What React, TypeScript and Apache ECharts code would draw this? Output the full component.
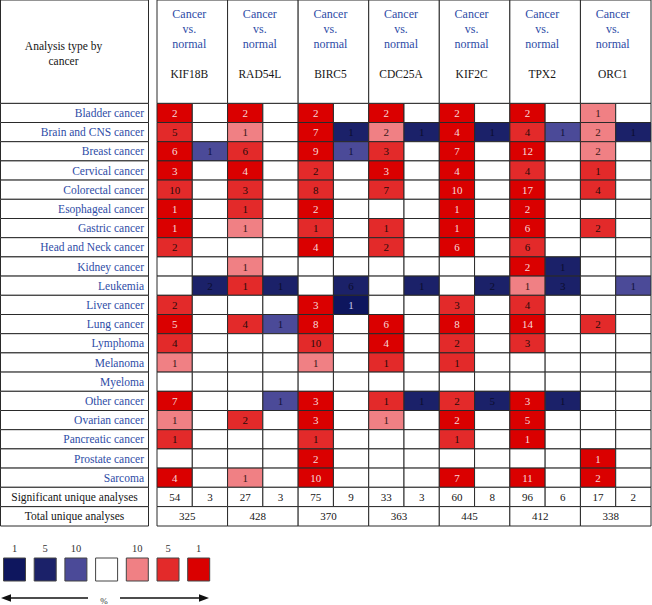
import React, { useEffect, useRef } from "react";
import * as echarts from "echarts";

const FONT = '"Liberation Serif", "DejaVu Serif", serif';

const cancers = [
  "Bladder cancer", "Brain and CNS cancer", "Breast cancer", "Cervical cancer",
  "Colorectal cancer", "Esophageal cancer", "Gastric cancer", "Head and Neck cancer",
  "Kidney cancer", "Leukemia", "Liver cancer", "Lung cancer", "Lymphoma",
  "Melanoma", "Myeloma", "Other cancer", "Ovarian cancer", "Pancreatic cancer",
  "Prostate cancer", "Sarcoma",
];
const genes = ["KIF18B", "RAD54L", "BIRC5", "CDC25A", "KIF2C", "TPX2", "ORC1"];

// counts of analyses (up = over-expressed, down = under-expressed) and their top-% shade
const kif18bUp = [2, 5, 6, 3, 10, 1, 1, 2, 0, 0, 2, 5, 4, 1, 0, 7, 1, 1, 0, 4];
const kif18bUpPct = [1, 5, 1, 1, 5, 1, 1, 5, 0, 0, 5, 1, 5, 10, 0, 1, 10, 5, 0, 1];
const kif18bDown = [0, 0, 1, 0, 0, 0, 0, 0, 0, 2, 0, 0, 0, 0, 0, 0, 0, 0, 0, 0];
const kif18bDownPct = [0, 0, 10, 0, 0, 0, 0, 0, 0, 5, 0, 0, 0, 0, 0, 0, 0, 0, 0, 0];

const rad54lUp = [2, 1, 6, 4, 3, 1, 1, 0, 1, 1, 0, 4, 0, 0, 0, 0, 2, 0, 0, 1];
const rad54lUpPct = [1, 10, 5, 1, 5, 5, 10, 0, 10, 5, 0, 5, 0, 0, 0, 0, 5, 0, 0, 10];
const rad54lDown = [0, 0, 0, 0, 0, 0, 0, 0, 0, 1, 0, 1, 0, 0, 0, 1, 0, 0, 0, 0];
const rad54lDownPct = [0, 0, 0, 0, 0, 0, 0, 0, 0, 5, 0, 10, 0, 0, 0, 10, 0, 0, 0, 0];

const birc5Up = [2, 7, 9, 2, 8, 2, 1, 4, 0, 0, 3, 8, 10, 1, 0, 3, 3, 1, 2, 10];
const birc5UpPct = [1, 1, 1, 5, 5, 1, 5, 1, 0, 0, 1, 1, 5, 10, 0, 1, 1, 5, 1, 1];
const birc5Down = [0, 1, 1, 0, 0, 0, 0, 0, 0, 6, 1, 0, 0, 0, 0, 0, 0, 0, 0, 0];
const birc5DownPct = [0, 5, 10, 0, 0, 0, 0, 0, 0, 5, 1, 0, 0, 0, 0, 0, 0, 0, 0, 0];

const cdc25aUp = [2, 2, 3, 3, 7, 0, 1, 2, 0, 0, 0, 6, 4, 1, 0, 1, 1, 0, 0, 0];
const cdc25aUpPct = [1, 10, 5, 1, 5, 0, 5, 5, 0, 0, 0, 1, 1, 5, 0, 5, 10, 0, 0, 0];
const cdc25aDown = [0, 1, 0, 0, 0, 0, 0, 0, 0, 1, 0, 0, 0, 0, 0, 1, 0, 0, 0, 0];
const cdc25aDownPct = [0, 5, 0, 0, 0, 0, 0, 0, 0, 5, 0, 0, 0, 0, 0, 5, 0, 0, 0, 0];

const kif2cUp = [2, 4, 7, 4, 10, 1, 1, 6, 0, 0, 3, 8, 2, 1, 0, 2, 2, 1, 0, 7];
const kif2cUpPct = [1, 1, 1, 1, 1, 1, 1, 1, 0, 0, 5, 1, 5, 5, 0, 5, 1, 5, 0, 1];
const kif2cDown = [0, 1, 0, 0, 0, 0, 0, 0, 0, 2, 0, 0, 0, 0, 0, 5, 0, 0, 0, 0];
const kif2cDownPct = [0, 5, 0, 0, 0, 0, 0, 0, 0, 5, 0, 0, 0, 0, 0, 5, 0, 0, 0, 0];

const tpx2Up = [2, 4, 12, 4, 17, 2, 6, 6, 2, 1, 4, 14, 3, 0, 0, 3, 5, 1, 0, 11];
const tpx2UpPct = [1, 5, 1, 5, 1, 1, 1, 5, 1, 10, 5, 1, 5, 0, 0, 1, 1, 1, 0, 1];
const tpx2Down = [0, 1, 0, 0, 0, 0, 0, 0, 1, 3, 0, 0, 0, 0, 0, 1, 0, 0, 0, 0];
const tpx2DownPct = [0, 10, 0, 0, 0, 0, 0, 0, 5, 5, 0, 0, 0, 0, 0, 5, 0, 0, 0, 0];

const orc1Up = [1, 2, 2, 1, 4, 0, 2, 0, 0, 0, 0, 2, 0, 0, 0, 0, 0, 0, 1, 2];
const orc1UpPct = [10, 10, 10, 5, 5, 0, 5, 0, 0, 0, 0, 5, 0, 0, 0, 0, 0, 0, 1, 1];
const orc1Down = [0, 1, 0, 0, 0, 0, 0, 0, 0, 1, 0, 0, 0, 0, 0, 0, 0, 0, 0, 0];
const orc1DownPct = [0, 5, 0, 0, 0, 0, 0, 0, 0, 10, 0, 0, 0, 0, 0, 0, 0, 0, 0, 0];

const significant = [54, 3, 27, 3, 75, 9, 33, 3, 60, 8, 96, 6, 17, 2];
const totals = [325, 428, 370, 363, 445, 412, 338];
const bottomLabels = ["Significant unique analyses", "Total unique analyses"];

const legendTicks = ["1", "5", "10", "", "10", "5", "1"];
const legendKeys = ["d1", "d5", "d10", "none", "u10", "u5", "u1"];

const UP = [kif18bUp, rad54lUp, birc5Up, cdc25aUp, kif2cUp, tpx2Up, orc1Up];
const UP_PCT = [kif18bUpPct, rad54lUpPct, birc5UpPct, cdc25aUpPct, kif2cUpPct, tpx2UpPct, orc1UpPct];
const DOWN = [kif18bDown, rad54lDown, birc5Down, cdc25aDown, kif2cDown, tpx2Down, orc1Down];
const DOWN_PCT = [kif18bDownPct, rad54lDownPct, birc5DownPct, cdc25aDownPct, kif2cDownPct, tpx2DownPct, orc1DownPct];

const FILL: Record<string, string> = {
  u1: "#DA0000", u5: "#E32A2A", u10: "#F08084",
  d1: "#0E165E", d5: "#1B2169", d10: "#4B4A98", none: "#FFFFFF",
};
const TEXT: Record<string, string> = {
  u1: "#F7D9D9", u5: "#2A0B0B", u10: "#3A1818",
  d1: "#C2C8EA", d5: "#0B0D2E", d10: "#12123A", none: "#222",
};
const BLUE = "#2E4CA6";
const LINE = "#2A2A2A";

type Cell = {
  x: number; y: number; text: string; fill: string; color: string;
  size?: number; position?: string; distance?: number; offset?: number[];
  rich?: any; align?: string; lineHeight?: number;
};

function cellSeries(gridIndex: number, cells: Cell[]) {
  return {
    type: "custom",
    coordinateSystem: "cartesian2d",
    xAxisIndex: gridIndex,
    yAxisIndex: gridIndex,
    silent: true,
    data: cells.map((c) => [c.x, c.y]),
    renderItem: (params: any, api: any) => {
      const c = cells[params.dataIndex];
      const p = api.coord([api.value(0), api.value(1)]);
      const s = api.size([1, 1]);
      return {
        type: "rect",
        shape: { x: p[0] - s[0] / 2, y: p[1] - s[1] / 2, width: s[0], height: s[1] },
        style: { fill: c.fill, stroke: LINE, lineWidth: 1 },
        textContent: {
          style: {
            text: c.text,
            fill: c.color,
            fontFamily: FONT,
            fontSize: c.size || 11,
            align: c.align || "center",
            verticalAlign: "middle",
            lineHeight: c.lineHeight,
            rich: c.rich,
          },
        },
        textConfig: {
          position: c.position || "inside",
          distance: c.distance || 0,
          offset: c.offset || [0, 0],
        },
      };
    },
  };
}

function buildOption() {
  const subCols: string[] = [];
  genes.forEach((g) => { subCols.push(g + " up"); subCols.push(g + " down"); });

  const mainCells: Cell[] = [];
  for (let g = 0; g < genes.length; g++) {
    for (let r = 0; r < cancers.length; r++) {
      const pairs: [number, number, string][] = [
        [2 * g, UP[g][r], UP_PCT[g][r] ? "u" + UP_PCT[g][r] : "none"],
        [2 * g + 1, DOWN[g][r], DOWN_PCT[g][r] ? "d" + DOWN_PCT[g][r] : "none"],
      ];
      pairs.forEach(([x, v, key]) => {
        mainCells.push({ x, y: r, text: v ? String(v) : "", fill: FILL[key], color: TEXT[key] });
      });
    }
  }

  const labelCells: Cell[] = cancers.map((name, r) => ({
    x: 0, y: r, text: name, fill: "#fff", color: BLUE, position: "insideRight", distance: 5,
    align: "right", size: 11.5,
  }));
  const headerCells: Cell[] = genes.map((g, i) => ({
    x: i, y: 0, fill: "#fff", color: BLUE, offset: [-3, -7.6],
    text: `{c|Cancer}\n{c|vs.}\n{c|normal}\n{s| }\n{g|${g}}`,
    rich: {
      c: { fill: BLUE, fontFamily: FONT, fontSize: 12, lineHeight: 15, align: "center" },
      s: { fontSize: 12, lineHeight: 15 },
      g: { fill: "#151515", fontFamily: FONT, fontSize: 11.5, lineHeight: 15, align: "center" },
    },
  }));
  const headLabel: Cell[] = [{
    x: 0, y: 0, text: "Analysis type by\ncancer", fill: "#fff", color: "#151515",
    size: 11.5, lineHeight: 15, offset: [-11, 2],
  }];
  const sigCells: Cell[] = significant.map((v, i) => ({ x: i, y: 0, text: String(v), fill: "#fff", color: "#151515" }));
  const totCells: Cell[] = totals.map((v, i) => ({ x: i, y: 0, text: String(v), fill: "#fff", color: "#151515", offset: [-5, 0] }));
  const bottomCells: Cell[] = bottomLabels.map((t, i) => ({ x: 0, y: i, text: t, fill: "#fff", color: "#151515", size: 11.5 }));

  const grids = [
    { left: 157, top: 103.3, width: 494, height: 384 },   // 0 data
    { left: 0.5, top: 103.3, width: 148, height: 384 },   // 1 cancer labels
    { left: 157, top: -2, width: 494, height: 105.3 },    // 2 gene header
    { left: 0.5, top: -2, width: 148, height: 105.3 },    // 3 header label
    { left: 157, top: 487.3, width: 494, height: 19.3 },  // 4 significant
    { left: 157, top: 506.6, width: 494, height: 19.4 },  // 5 totals
    { left: 0.5, top: 487.3, width: 148, height: 38.7 },  // 6 bottom labels
  ];
  const xData = [subCols, ["label"], genes, ["h"], subCols, genes, ["b"]];
  const yData = [cancers, cancers, ["h"], ["h"], ["s"], ["t"], bottomLabels];

  const legendX0 = 3.5;
  const legendStep = 30.7;
  const graphic: any[] = [];
  legendKeys.forEach((k, i) => {
    const x = legendX0 + i * legendStep;
    graphic.push({
      type: "rect",
      shape: { x, y: 558, width: 22, height: 23 },
      style: { fill: FILL[k], stroke: "#444", lineWidth: 1 },
    });
    if (legendTicks[i]) {
      graphic.push({
        type: "text",
        x: x + 11, y: 548,
        style: { text: legendTicks[i], fill: "#333", fontFamily: FONT, fontSize: 10.5, align: "center", verticalAlign: "middle" },
      });
    }
  });
  graphic.push(
    { type: "line", shape: { x1: 8, y1: 598, x2: 88, y2: 598 }, style: { stroke: "#111", lineWidth: 1.5 } },
    { type: "polygon", shape: { points: [[1, 598], [11, 594.3], [11, 601.7]] }, style: { fill: "#111" } },
    { type: "line", shape: { x1: 120, y1: 598, x2: 202, y2: 598 }, style: { stroke: "#111", lineWidth: 1.5 } },
    { type: "polygon", shape: { points: [[209, 598], [199, 594.3], [199, 601.7]] }, style: { fill: "#111" } },
    { type: "text", x: 104, y: 601, style: { text: "%", fill: "#333", fontFamily: FONT, fontSize: 9, align: "center", verticalAlign: "middle" } },
  );

  return {
    animation: false,
    backgroundColor: "#FFFFFF",
    textStyle: { fontFamily: FONT },
    grid: grids,
    xAxis: grids.map((_, i) => ({ type: "category", gridIndex: i, data: xData[i], show: false })),
    yAxis: grids.map((_, i) => ({ type: "category", gridIndex: i, data: yData[i], show: false, inverse: true })),
    graphic,
    series: [
      cellSeries(0, mainCells),
      cellSeries(1, labelCells),
      cellSeries(2, headerCells),
      cellSeries(3, headLabel),
      cellSeries(4, sigCells),
      cellSeries(5, totCells),
      cellSeries(6, bottomCells),
    ],
  };
}

export default function App() {
  const ref = useRef<HTMLDivElement>(null);
  useEffect(() => {
    if (!ref.current) return;
    const chart = echarts.init(ref.current, null, { renderer: "svg" });
    chart.setOption(buildOption() as any);
    return () => chart.dispose();
  }, []);
  return (
    <div
      ref={ref}
      style={{ position: "absolute", left: 0, top: 0, width: 652, height: 605, background: "#fff" }}
    />
  );
}
